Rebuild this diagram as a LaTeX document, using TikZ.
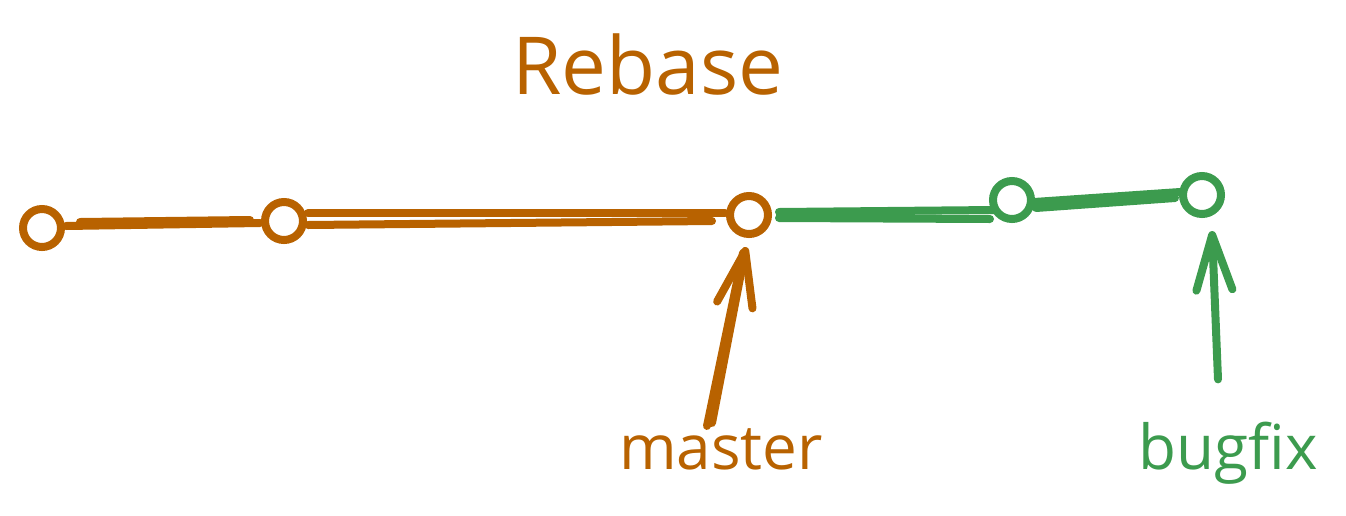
\documentclass[tikz,border=0pt]{standalone}
\usepackage{fontspec}
\setmainfont{Open Sans}
\usetikzlibrary{arrows.meta,calc}
\definecolor{morange}{RGB}{184,98,0}
\definecolor{bgreen}{RGB}{60,155,78}
\begin{document}
\begin{tikzpicture}[x=1pt,y=-1pt,
  commit/.style={circle,draw=#1,line width=8pt,minimum size=38pt,inner sep=0pt},
  edge/.style={draw=#1,line width=8pt,line cap=round},
  ptr/.style={draw=#1,line width=8pt,line cap=round,-{Straight Barb[length=55pt,width=36pt,round]}},
  lbl/.style={text=#1,font=\fontsize{62}{70}\selectfont,inner sep=0pt,anchor=base}]
\useasboundingbox (0,0) rectangle (1346,515);
\node[lbl=morange,font=\fontsize{80}{90}\selectfont] (title) at (648,94) {Rebase};
\node[commit=morange] (c1) at (42,228) {};
\node[commit=morange] (c2) at (284,221) {};
\node[commit=morange] (c3) at (749,215) {};
\node[commit=bgreen] (c4) at (1012,200) {};
\node[commit=bgreen] (c5) at (1202,195) {};
\node[lbl=morange] (master) at (721,469) {master};
\node[lbl=bgreen] (bugfix) at (1228,469) {bugfix};
% orange edges (doubled hand strokes)
\draw[edge=morange] ($(c1)+(24,-2)$) -- ($(c2)+(-24,2)$);
\draw[edge=morange] ($(c1)+(38,-6)$) -- ($(c2)+(-34,-1)$);
\draw[edge=morange] ($(c2)+(24,-8)$) -- ($(c3)+(-24,-2)$);
\draw[edge=morange] ($(c2)+(24,4)$) -- ($(c3)+(-37,6)$);
% green edges
\draw[edge=bgreen] ($(c3)+(30,-3)$) -- ($(c4)+(-17,10)$);
\draw[edge=bgreen] ($(c3)+(30,3)$) -- ($(c4)+(-22,19)$);
\draw[edge=bgreen] ($(c4)+(22,2)$) -- ($(c5)+(-22,-3)$);
\draw[edge=bgreen] ($(c4)+(24,8)$) -- ($(c5)+(-27,3)$);
% pointers
\draw[ptr=morange] ($(master.north)+(-9,-5)$) -- ($(c3)+(-3,32)$);
\draw[edge=morange] ($(master.north)+(-14,-2)$) -- ($(c3)+(-6,38)$);
\draw[ptr=bgreen] ($(bugfix.north)+(-10,-42)$) -- ($(c5)+(10,36)$);
\end{tikzpicture}
\end{document}
